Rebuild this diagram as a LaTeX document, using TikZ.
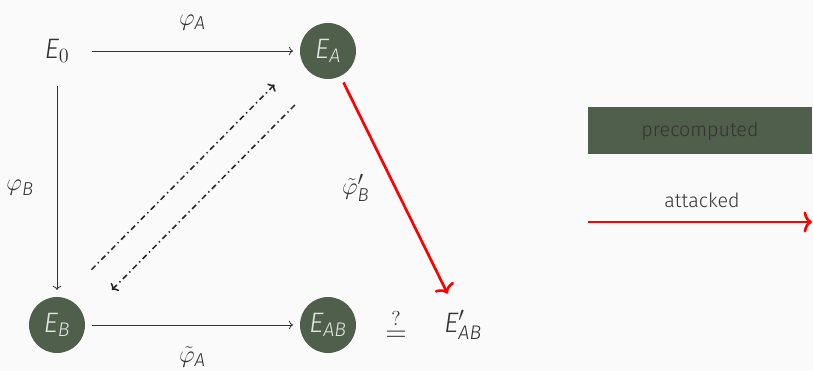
\documentclass[tikz,border=0pt]{standalone}
\usepackage{amsmath}
\usepackage{fontspec}
\setmainfont{Fira Sans Light}[ItalicFont={Fira Sans Light Italic}]
\usepackage{tikz}
\usetikzlibrary{arrows.meta,calc}
\definecolor{curvegreen}{HTML}{4F5F4C}
\definecolor{curvetext}{HTML}{E2E4E1}
\definecolor{labeltext}{HTML}{333333}
\definecolor{bgcolor}{HTML}{FAFAFA}

\begin{document}
\begin{tikzpicture}[>=To]
	\tikzstyle{curve}=[circle, fill=curvegreen, text=curvetext, minimum size=1.4cm, inner sep=0pt, outer sep=5pt, font=\fontsize{20}{24}\selectfont]
	\tikzstyle{plain}=[circle, text=labeltext, minimum size=1.4cm, inner sep=0pt, outer sep=5pt, font=\fontsize{20}{24}\selectfont]
	\tikzstyle{lbl}=[text=labeltext, font=\fontsize{19}{22}\selectfont]
	\tikzstyle{iso}=[->, labeltext, line width=0.6pt]
	\tikzstyle{dashdot}=[-{To[length=3.5pt,width=8pt]}, black!85, line width=1.1pt, dash pattern=on 4pt off 2.5pt on 1pt off 2.5pt]
	\tikzstyle{attack}=[-{To[length=6pt,width=15pt]}, red, line width=1.9pt]

	\fill [bgcolor] (0,0) rectangle (20.325,9.275);
	\useasboundingbox (0,0) rectangle (20.325,9.275);

	\node (E0) [plain] at (1.425,8.0) {$\textit{E}_{0}$};
	\node (EA) [curve] at (8.2,8.0) {$\textit{E}_{\textit{A}}$};
	\node (EB) [curve] at (1.425,1.15) {$\textit{E}_{\textit{B}}$};
	\node (EAB) [curve] at (8.2,1.15) {$\textit{E}_{\textit{AB}}$};
	\node (eq) [plain] at (9.9,1.15) {$\overset{?}{=}$};
	\node (EABp) [plain] at (11.575,1.15) {$\textit{E}'_{\textit{AB}}$};

	\draw [iso] (E0) -- (EA) node[midway, above=0.4cm, lbl] {$\varphi_{\textit{A}}$};
	\draw [iso] (E0) -- (EB) node[midway, left=0.45cm, lbl] {$\varphi_{\textit{B}}$};
	\draw [iso] (EB) -- (EAB) node[midway, below=0.4cm, lbl] {$\tilde{\varphi}_{\textit{A}}$};
	\draw [attack] (EA) -- (EABp) node[midway, left=0.5cm, lbl] {$\tilde{\varphi}'_{\textit{B}}$};

	% dual isogenies
	\draw [dashdot] ($(EB)!0.165!(EA)!0.36cm!90:(EA)$) -- ($(EB)!0.84!(EA)!0.36cm!90:(EA)$);
	\draw [dashdot] ($(EB)!0.84!(EA)!0.36cm!-90:(EA)$) -- ($(EB)!0.165!(EA)!0.36cm!-90:(EA)$);

	% legend
	\node (pre) [fill=curvegreen, text=labeltext, minimum width=5.6cm, minimum height=1.175cm, font=\fontsize{14}{16}\selectfont] at (17.5,6.0) {precomputed};
	\node (att) [text=labeltext, font=\fontsize{14}{16}\selectfont] at (17.55,4.275) {attacked};
	\coordinate (l1) at (14.7,3.725);
	\coordinate (l2) at (20.3,3.725);
	\draw [attack] (l1) -- (l2);
\end{tikzpicture}
\end{document}
